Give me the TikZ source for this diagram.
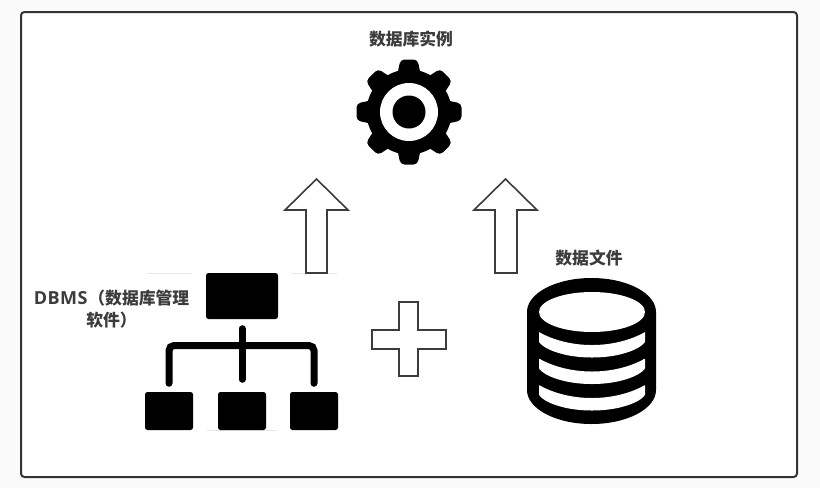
\documentclass[tikz,border=0pt]{standalone}
\usepackage{fontspec}
\setmainfont{Noto Sans CJK SC}
\newfontfamily\latinbold[LetterSpace=2.5]{Open Sans}
\definecolor{ink}{HTML}{3C3C3C}
\definecolor{framecol}{HTML}{333333}
\definecolor{paper}{HTML}{FAFAFA}
\definecolor{hairline}{HTML}{E8E8E8}
\newcommand{\diskgap}[1]{%
  \fill[white, rounded corners=.6pt] (539,#1)
    .. controls (553,#1+8) and (572,#1+13) .. (592,#1+13)
    .. controls (612,#1+13) and (631,#1+8) .. (645,#1)
    -- (645,#1+10)
    .. controls (640,#1+17) and (620,#1+25.5) .. (592,#1+25.5)
    .. controls (564,#1+25.5) and (544,#1+17) .. (539,#1+10) -- cycle;}
\tikzset{
  caption/.style={font=\fontsize{16.8}{22}\selectfont\bfseries, text=ink, inner sep=0pt, align=center},
  outlineshape/.style={draw=ink, line width=1.6pt, fill=white, line join=miter},
  orgbox/.style={draw=none, fill=black, rounded corners=2.5pt, inner sep=0pt},
  orgroot/.style={orgbox, minimum width=72pt, minimum height=46pt},
  orgleaf/.style={orgbox, minimum width=48pt, minimum height=38pt},
  orglink/.style={draw=black, line width=7pt, line cap=round, rounded corners=5pt},
}
\begin{document}
\begin{tikzpicture}[x=1pt, y=-1pt]
\useasboundingbox (0,0) rectangle (820,488);
\fill[paper] (0,0) rectangle (820,488);

% outer frame
\draw[draw=framecol, fill=white, line width=2pt, rounded corners=3.5pt] (21,12) rectangle (797,477);

% faint rules around the tree icon
\draw[hairline, line width=.8pt] (147,273) -- (192,273) (292,273) -- (337,273) (207,430) -- (277,430);

% gear: eight teeth on a solid disc, white ring, black hub
\begin{scope}[shift={(409,112)}]
  \fill[black] (0,0) circle[radius=42.5];
  \foreach \a in {0,45,...,315} {
    \fill[black, rotate=\a, rounded corners=4pt]
      (-12,-36) -- (-8.5,-52.5) -- (8.5,-52.5) -- (12,-36) -- cycle;
  }
  \fill[white] (0,0) circle[radius=29];
  \fill[black] (0,0) circle[radius=16.5];
\end{scope}

% block arrows
\draw[outlineshape] (316.5,179) -- (348,210) -- (327,210) -- (327,273) -- (306,273) -- (306,210) -- (285,210) -- cycle;
\draw[outlineshape] (505.5,179) -- (537,210) -- (517,210) -- (517,273) -- (495,273) -- (495,210) -- (474,210) -- cycle;

% plus sign
\draw[outlineshape] (399,302) -- (418,302) -- (418,330) -- (446,330) -- (446,349) -- (418,349) -- (418,376) -- (399,376) -- (399,349) -- (372,349) -- (372,330) -- (399,330) -- cycle;

% tree icon
\node[orgroot] (root) at (242,296) {};
\node[orgleaf] (leafa) at (169,411) {};
\node[orgleaf] (leafb) at (242,411) {};
\node[orgleaf] (leafc) at (314,411) {};
\coordinate (busl) at (leafa.north |- 0,345.5);
\coordinate (busr) at (leafc.north |- 0,345.5);
\draw[orglink, shorten <=9.5pt, shorten >=12.5pt] (root.south) -- (leafb.north);
\draw[orglink, shorten <=8.5pt, shorten >=8.5pt] (leafa.north) -- (busl) -- (busr) -- (leafc.north);

% disk stack: solid silhouette with the top face and three gaps cut out in white
\fill[black] (527,312) arc[start angle=180, end angle=360, x radius=64.5, y radius=34]
  -- (656,390) arc[start angle=0, end angle=180, x radius=64.5, y radius=34] -- cycle;
\fill[white] (592,312) ellipse[x radius=53, y radius=20];
\diskgap{332}
\diskgap{358.5}
\diskgap{385}

% labels
\node[caption] (instance) at (411,39) {数据库实例};
\node[caption] (files) at (589,258) {数据文件};
\node[caption] (dbms) at (111.5,309) {{\latinbold\fontsize{18}{22}\selectfont DBMS}\kern1pt（数据库管理\\软件）};
\end{tikzpicture}
\end{document}
